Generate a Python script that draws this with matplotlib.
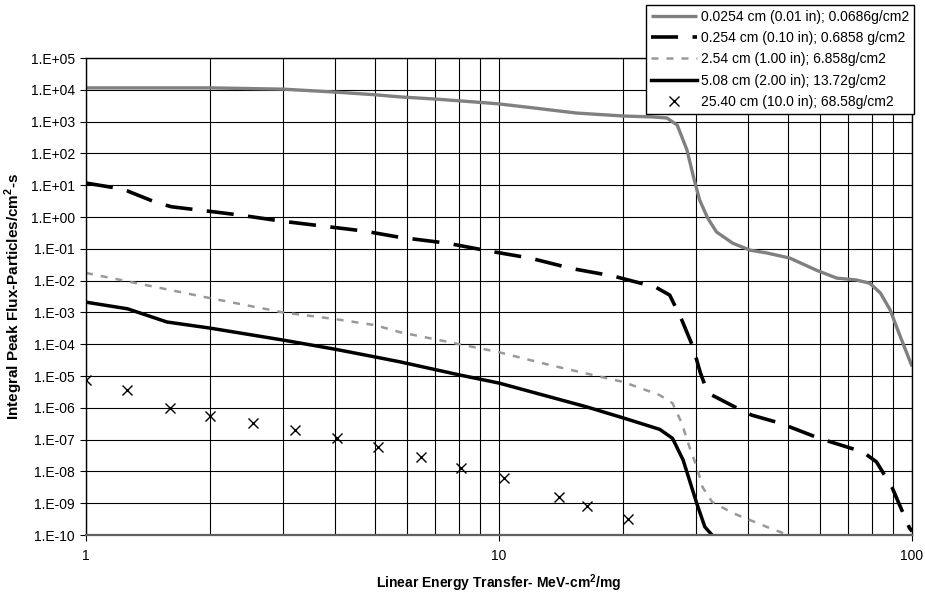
import numpy as np
import matplotlib
matplotlib.use("Agg")
from matplotlib import pyplot as plt
from matplotlib.ticker import FixedLocator, FuncFormatter, NullFormatter

plt.rcParams['font.family'] = ['Liberation Sans', 'DejaVu Sans']
plt.rcParams['mathtext.fontset'] = 'custom'
plt.rcParams['mathtext.rm'] = 'Liberation Sans'
plt.rcParams['mathtext.bf'] = 'Liberation Sans:bold'

# series (LET in MeV-cm2/mg, flux in particles/cm2-s)
let_1 = [1, 1.5, 2, 3, 4, 5, 5.75, 7.04, 9.05, 10, 12.1, 15.4, 20, 23.6, 25.5,
         27, 28.5, 29.7, 30.6, 32, 33.6, 36.8, 40.5, 44.5, 50.6, 58.8, 65.7,
         73.2, 79, 83.8, 88.5, 93, 100]
flux_1 = [1.15e4, 1.15e4, 1.15e4, 1.05e4, 8.5e3, 7.0e3, 6.0e3, 5.1e3, 4.0e3,
          3.6e3, 2.7e3, 1.86e3, 1.5e3, 1.4e3, 1.3e3, 7.8e2, 1.3e2, 14.5, 3.4,
          0.93, 0.34, 0.15, 0.091, 0.074, 0.051, 0.021, 0.012, 0.0105, 0.0083,
          0.0041, 1.2e-3, 2.2e-4, 2.0e-5]

let_2 = [1, 1.18, 1.26, 1.47, 1.61, 2, 2.36, 2.98, 3.74, 4.73, 5.75, 7.5, 9.46,
         11.9, 15, 18.9, 23.9, 25.9, 27.7, 29.5, 30.7, 31.5, 32.8, 37.2, 40.9,
         47.9, 59.6, 76, 82, 89.4, 98.5, 100]
flux_2 = [11.7, 8.2, 6.6, 2.95, 2.1, 1.5, 1.15, 0.74, 0.52, 0.36, 0.23, 0.15,
          0.085, 0.051, 0.024, 0.0139, 0.0063, 0.0035, 5.8e-4, 8.1e-5, 1.3e-5,
          5.2e-6, 2.5e-6, 1.07e-6, 5.9e-7, 3.3e-7, 1.1e-7, 4.1e-8, 2.0e-8,
          3.2e-9, 1.7e-10, 1.3e-10]

let_3 = [1, 1.5, 2, 3, 4, 5, 5.75, 7.74, 10, 13.3, 16.9, 20, 24.5, 26.3, 27.7,
         28.9, 30.1, 31.1, 32.8, 36.8, 44.5, 52.5]
flux_3 = [0.0174, 6.0e-3, 2.8e-3, 1.0e-3, 6.2e-4, 4.0e-4, 2.4e-4, 1.1e-4,
          5.6e-5, 2.2e-5, 1.07e-5, 6.5e-6, 2.5e-6, 1.4e-6, 3.3e-7, 5.9e-8,
          1.4e-8, 3.2e-9, 1.1e-9, 4.9e-10, 1.8e-10, 8e-11]

let_4 = [1, 1.26, 1.57, 2, 3, 4, 5, 5.75, 8.05, 10, 16.3, 20, 24.5, 26.3, 27.9,
         28.9, 30.1, 31.5, 33.3]
flux_4 = [2.1e-3, 1.3e-3, 5.0e-4, 3.2e-4, 1.35e-4, 7.0e-5, 4.0e-5, 2.8e-5,
          1.07e-5, 6.0e-6, 1.07e-6, 4.8e-7, 2.1e-7, 1.1e-7, 2.3e-8, 5.4e-9,
          1.0e-9, 1.8e-10, 8e-11]

let_5 = [1, 1.26, 1.6, 2, 2.54, 3.2, 4.05, 5.1, 6.47, 8.1, 10.3, 14, 16.3, 20.5]
flux_5 = [7.4e-6, 3.6e-6, 1.0e-6, 5.5e-7, 3.3e-7, 2.0e-7, 1.1e-7, 5.9e-8,
          2.8e-8, 1.3e-8, 6.3e-9, 1.6e-9, 8.1e-10, 3.2e-10]

labels = ['0.0254 cm (0.01 in); 0.0686g/cm2',
          '0.254 cm (0.10 in); 0.6858 g/cm2',
          '2.54 cm (1.00 in); 6.858g/cm2',
          '5.08 cm (2.00 in); 13.72g/cm2',
          '25.40 cm (10.0 in); 68.58g/cm2']

fig = plt.figure(figsize=(9.25, 5.95), dpi=100)
ax = fig.add_axes([0.093, 0.1008, 0.893, 0.8017])

ax.plot(let_1, flux_1, color='#808080', lw=2.4, label=labels[0],
        solid_capstyle='butt')
ax.plot(let_2, flux_2, color='black', lw=2.6, dashes=(7.5, 4),
        label=labels[1], dash_capstyle='butt')
ax.plot(let_3, flux_3, color='#999999', lw=1.8, dashes=(2.8, 3.2),
        label=labels[2], dash_capstyle='butt')
ax.plot(let_4, flux_4, color='black', lw=2.5, label=labels[3])
ax.plot(let_5, flux_5, ls='none', marker='x', ms=7, mew=1.0,
        color='black', label=labels[4])

ax.set_xscale('log')
ax.set_yscale('log')
ax.set_xlim(1, 100)
ax.set_ylim(1e-10, 1e5)

ax.yaxis.set_major_locator(FixedLocator([10.0**k for k in range(-10, 6)]))
ax.yaxis.set_minor_locator(FixedLocator([]))
ax.yaxis.set_major_formatter(FuncFormatter(
    lambda v, p: '1.E%+03d' % int(round(np.log10(v)))))
ax.xaxis.set_major_locator(FixedLocator([1, 10, 100]))
ax.xaxis.set_major_formatter(FuncFormatter(lambda v, p: '%g' % v))
minors = [m * d for d in (1, 10) for m in range(2, 10)]
ax.xaxis.set_minor_locator(FixedLocator(minors))
ax.xaxis.set_minor_formatter(NullFormatter())

ax.grid(which='major', axis='both', color='black', lw=0.8)
ax.grid(which='minor', axis='x', color='black', lw=0.8)
ax.tick_params(which='major', labelsize=10, length=4, width=0.8,
               direction='out', pad=4)
ax.tick_params(axis='x', which='minor', length=0)
ax.tick_params(axis='x', which='major', pad=6)
for s in ax.spines.values():
    s.set_linewidth(1.0)
ax.spines['bottom'].set_color('#606060')
ax.spines['bottom'].set_linewidth(1.6)

ax.set_xlabel(r'Linear Energy Transfer- MeV-cm$^{\mathbf{2}}$/mg',
              fontsize=10, fontweight='bold')
ax.xaxis.set_label_coords(0.5, -0.078)
ax.set_ylabel(r'Integral Peak Flux-Particles/cm$^{\mathbf{2}}$-s',
              fontsize=11, fontweight='bold')
ax.yaxis.set_label_coords(-0.074, 0.5)

leg = fig.legend(loc='upper right', bbox_to_anchor=(0.988, 0.9916),
                 borderaxespad=0, fontsize=10, frameon=True, fancybox=False,
                 edgecolor='black', framealpha=1, handlelength=3.3,
                 handletextpad=0.3, labelspacing=0.52, borderpad=0.35)
leg.get_frame().set_linewidth(1.0)

fig.savefig('out.png', dpi=100)
